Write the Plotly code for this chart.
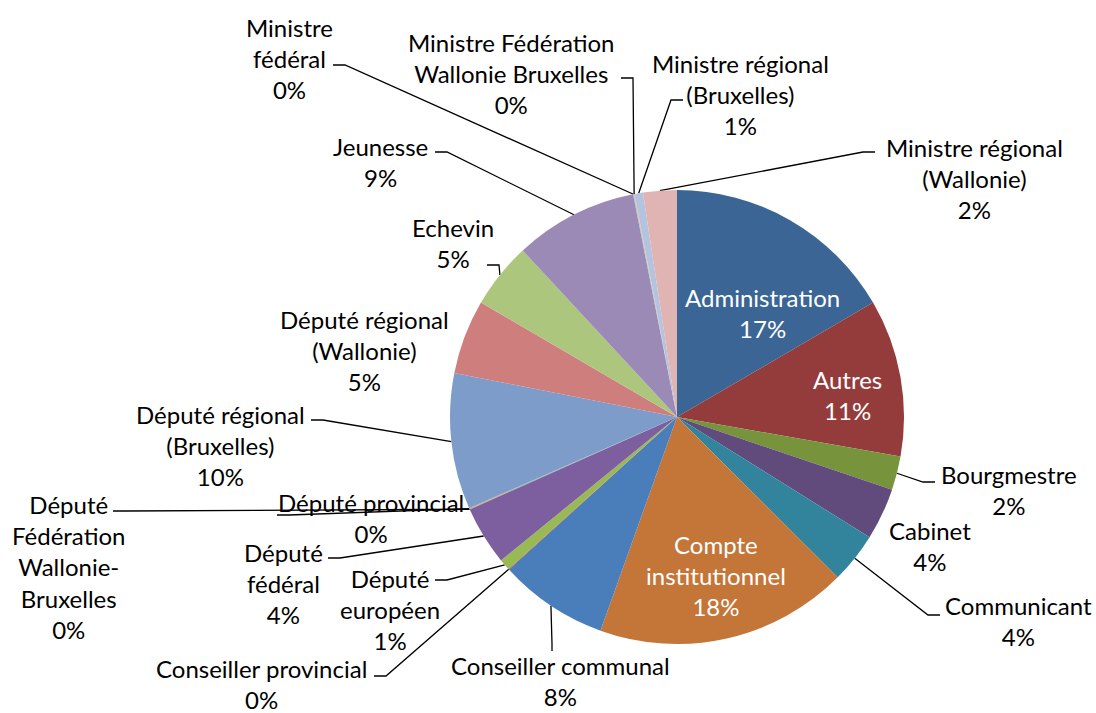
import math
import plotly.graph_objects as go

# Share of accounts per category
categories = ["Administration", "Autres", "Bourgmestre", "Cabinet", "Communicant",
              "Compte institutionnel", "Conseiller communal", "Conseiller provincial",
              "Député européen", "Député fédéral", "Député Fédération Wallonie-Bruxelles",
              "Député provincial", "Député régional (Bruxelles)", "Député régional (Wallonie)",
              "Echevin", "Jeunesse", "Ministre fédéral", "Ministre Fédération Wallonie Bruxelles",
              "Ministre régional (Bruxelles)", "Ministre régional (Wallonie)"]
shares = [16.6, 11.2, 2.4, 3.7, 3.6, 18.0, 7.8, 0.05, 0.8, 4.2, 0.05, 0.05,
          9.7, 5.3, 4.7, 8.8, 0.05, 0.05, 0.6, 2.4]

# How the label text wraps on the chart
label_text = ["Administration", "Autres", "Bourgmestre", "Cabinet", "Communicant",
              "Compte<br>institutionnel", "Conseiller communal", "Conseiller provincial",
              "Député<br>européen", "Député<br>fédéral", "Député<br>Fédération<br>Wallonie-<br>Bruxelles",
              "Député provincial", "Député régional<br>(Bruxelles)", "Député régional<br>(Wallonie)",
              "Echevin", "Jeunesse", "Ministre<br>fédéral", "Ministre Fédération<br>Wallonie Bruxelles",
              "Ministre régional<br>(Bruxelles)", "Ministre régional<br>(Wallonie)"]

colors = ["#3A6594", "#943B3B", "#77933C", "#604B7C", "#31849B", "#C47538",
          "#4A7EBB", "#BE4B48", "#98B954", "#7D5FA0", "#46AAC5", "#F69546",
          "#7E9CC9", "#CE7E7C", "#ADC67E", "#9B89B6", "#79C1D5", "#F9B074",
          "#B3C3E0", "#E0B4B3"]

W, H = 1096, 713
cx, cy, R = 677, 417, 227

# label placement: centre of text block, leader anchor (None = no leader), inside?
placement = {
    "Administration": ((762, 313), None, True),
    "Autres": ((847, 395), None, True),
    "Compte institutionnel": ((716, 575), None, True),
    "Bourgmestre": ((1009, 490), (935, 482), False),
    "Cabinet": ((930, 546), None, False),
    "Communicant": ((1018, 621), (940, 615), False),
    "Conseiller communal": ((560, 681), (552, 651), False),
    "Conseiller provincial": ((261, 684), (374, 676), False),
    "Député européen": ((390, 609), (435, 580), False),
    "Député fédéral": ((283, 583), (328, 558), False),
    "Député Fédération Wallonie-Bruxelles": ((68, 567), (113, 511), False),
    "Député provincial": ((371, 518), (277, 515), False),
    "Député régional (Bruxelles)": ((220, 445), (311, 420), False),
    "Député régional (Wallonie)": ((364, 350), None, False),
    "Echevin": ((453, 243), (487, 265), False),
    "Jeunesse": ((380, 162), (435, 152), False),
    "Ministre fédéral": ((289, 58), (333, 65), False),
    "Ministre Fédération Wallonie Bruxelles": ((511, 73), (621, 78), False),
    "Ministre régional (Bruxelles)": ((740, 94), (683, 100), False),
    "Ministre régional (Wallonie)": ((974, 178), (875, 152), False),
}

total = sum(shares)
fig = go.Figure()

fig.add_trace(go.Pie(
    values=shares, labels=categories, sort=False, direction="clockwise",
    rotation=0, textinfo="none", hoverinfo="label+percent",
    marker=dict(colors=colors, line=dict(width=0)),
    domain=dict(x=[(cx - R) / W, (cx + R) / W], y=[1 - (cy + R) / H, 1 - (cy - R) / H]),
    showlegend=False,
))

annotations = []
cum = 0.0
for cat, txt, v in zip(categories, label_text, shares):
    mid = (cum + v / 2) / total * 2 * math.pi
    cum += v
    (tx, ty), anchor, inside = placement[cat]
    pct = round(v / total * 100)
    annotations.append(dict(
        x=tx, y=ty, xref="x", yref="y", showarrow=False,
        text=f"{txt}<br>{pct}%", align="center",
        font=dict(family="Lato", size=24, color="white" if inside else "black"),
    ))
    if anchor is None:
        continue
    tipx = cx + R * math.sin(mid)
    tipy = cy - R * math.cos(mid)
    ax, ay = anchor
    if abs(tipx - ax) < 3:
        ex, ey = ax, ay - 7
    else:
        ex, ey = ax + (12 if tipx > ax else -12), ay
    fig.add_trace(go.Scatter(
        x=[ax, ex, tipx], y=[ay, ey, tipy], mode="lines",
        line=dict(color="black", width=1.3), hoverinfo="skip", showlegend=False,
    ))

fig.update_layout(
    width=W, height=H, margin=dict(l=0, r=0, t=0, b=0),
    paper_bgcolor="white", plot_bgcolor="white",
    xaxis=dict(range=[0, W], visible=False, fixedrange=True),
    yaxis=dict(range=[H, 0], visible=False, fixedrange=True),
    annotations=annotations,
)

# drop the page's default body margin so the chart sits at the window's corner
fig.write_html("out.html", config={"displayModeBar": False},
               post_script="document.body.style.margin='0px';")
